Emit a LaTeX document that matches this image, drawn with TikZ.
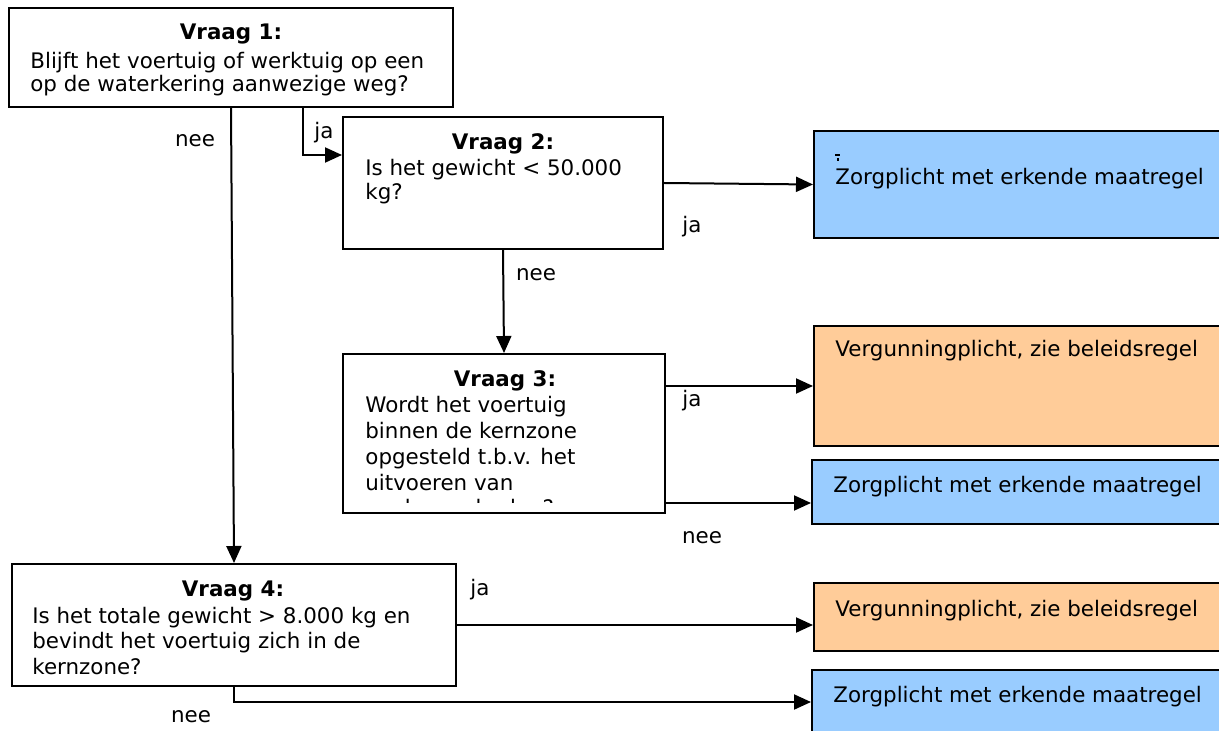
\documentclass[tikz,border=0pt]{standalone}
\usepackage{fontspec}
\setmainfont{DejaVu Sans}
\usetikzlibrary{arrows.meta,fit}
\definecolor{zblue}{HTML}{99CCFF}
\definecolor{zorange}{HTML}{FFCC99}
\begin{document}
\begin{tikzpicture}[x=0.5pt,y=-0.5pt,
  qbox/.style={draw=black, line width=1pt, fill=white, inner sep=0pt},
  bluebox/.style={qbox, fill=zblue},
  orangebox/.style={qbox, fill=zorange},
  txt/.style={font=\fontsize{10.7}{12.5}\selectfont, inner sep=0pt},
  head/.style={inner sep=0pt, font=\fontsize{10.7}{12.5}\selectfont\bfseries, anchor=base},
  body/.style={txt, anchor=base west},
  lbl/.style={txt, anchor=base},
  arr/.style={line width=1pt, -{Triangle[length=8.5pt,width=7.5pt]}}
]
\clip (0,0) rectangle (1219,731);
% boxes
\node[qbox, fit={(9,8) (453,107)}] (b1) {};
\node[qbox, fit={(343,117) (663,249)}] (b2) {};
\node[qbox, fit={(343,354) (665,513)}] (b3) {};
\node[qbox, fit={(12,564) (456,686)}] (b4) {};
\node[bluebox, fit={(814,131) (1230,238)}] (z1) {};
\node[orangebox, fit={(814,326) (1230,446)}] (o1) {};
\node[bluebox, fit={(812,460) (1230,524)}] (z2) {};
\node[orangebox, fit={(814,583) (1230,651)}] (o2) {};
\node[bluebox, fit={(812,670) (1230,745)}] (z3) {};
% question texts
\node[head] (h1) at (231,40) {Vraag 1:};
\node[body] (t1) at (30,69) {\vtop{\baselineskip=11.5pt\hbox{Blijft het voertuig of werktuig op een}\hbox{op de waterkering aanwezige weg?}}};
\node[head] (h2) at (503,150) {Vraag 2:};
\node[body] (t2) at (365,176) {\vtop{\baselineskip=12pt\hbox{Is het gewicht < 50.000}\hbox{kg?}}};
\node[head] (h3) at (505,387) {Vraag 3:};
\begin{scope}
\clip (344,355) rectangle (664,502.5);
\node[body] (t3) at (365,413) {\vtop{\baselineskip=12.85pt\hbox{Wordt het voertuig}\hbox{binnen de kernzone}\hbox{opgesteld t.b.v. het}\hbox{uitvoeren van}\hbox{werkzaamheden?}}};
\end{scope}
\node[head] (h4) at (233,596) {Vraag 4:};
\node[body] (t4) at (32,623) {\vtop{\baselineskip=12.75pt\hbox{Is het totale gewicht > 8.000 kg en}\hbox{bevindt het voertuig zich in de}\hbox{kernzone?}}};
% outcome texts
\node[body] (r1) at (835,185) {Zorgplicht met erkende maatregel};
\draw[line width=0.6pt] (835,155) -- (840,155);
\fill (836.5,158.5) rectangle (838.5,161);
\node[body] (r2) at (835,357) {Vergunningplicht, zie beleidsregel};
\node[body] (r3) at (833,492) {Zorgplicht met erkende maatregel};
\node[body] (r4) at (835,616) {Vergunningplicht, zie beleidsregel};
\node[body] (r5) at (833,702) {Zorgplicht met erkende maatregel};
% labels
\node[lbl] (n1) at (195,147) {nee};
\node[lbl] (y1) at (324,139) {ja};
\node[lbl] (y2) at (692,233) {ja};
\node[lbl] (n2) at (536,281) {nee};
\node[lbl] (y3) at (692,407) {ja};
\node[lbl] (n3) at (702,543) {nee};
\node[lbl] (y4) at (480,595) {ja};
\node[lbl] (n4) at (191,722) {nee};
% connectors
\draw[arr] (b1.south) -- (b4.north);
\coordinate (j1) at (303,155);
\draw[arr] (b1.south -| j1) |- (b2.west |- j1);
\draw[arr] (b2.east) -- (z1.west);
\draw[arr] (b2.south) -- (b3.north);
\draw[arr] (b3.east |- o1.west) -- (o1.west);
\coordinate (j3) at (663,503);
\draw[arr] (b3.east |- j3) -- (z2.west |- j3);
\draw[arr] (b4.east) -- (o2.west |- b4.east);
\coordinate (j4) at (0,702);
\draw[arr] (b4.south) |- (z3.west |- j4);
\end{tikzpicture}
\end{document}
